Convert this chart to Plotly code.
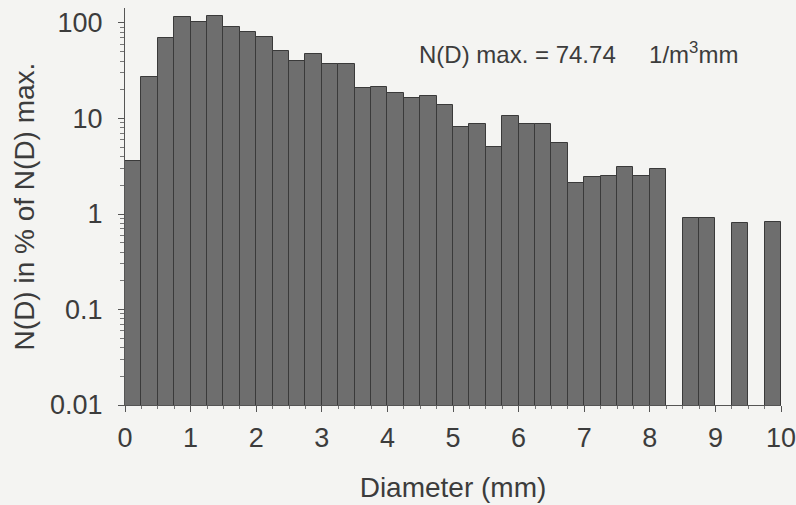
import plotly.graph_objects as go

# Bin centres (mm), bins of 0.25 mm from 0 to 10
diameter_mm = [0.125, 0.375, 0.625, 0.875, 1.125, 1.375, 1.625, 1.875,
               2.125, 2.375, 2.625, 2.875, 3.125, 3.375, 3.625, 3.875,
               4.125, 4.375, 4.625, 4.875, 5.125, 5.375, 5.625, 5.875,
               6.125, 6.375, 6.625, 6.875, 7.125, 7.375, 7.625, 7.875,
               8.125, 8.375, 8.625, 8.875, 9.125, 9.375, 9.625, 9.875]

# N(D) in % of N(D) max (None = empty bin)
nd_percent = [3.6, 27, 70, 116, 103, 117, 91, 80,
              71, 51, 40, 47, 37, 37, 20.7, 21.5,
              18.6, 16.3, 17.3, 13.7, 8.2, 8.7, 5.0, 10.6,
              8.7, 8.7, 5.6, 2.1, 2.45, 2.5, 3.1, 2.5,
              2.95, None, 0.90, 0.90, None, 0.81, None, 0.83]

y_tickvals = [0.01, 0.1, 1, 10, 100]
y_ticktext = ["0.01", "0.1", "1", "10", "100"]
y_minor = [m * 10 ** e for e in (-2, -1, 0, 1, 2) for m in range(2, 10)]
x_tickvals = [0, 1, 2, 3, 4, 5, 6, 7, 8, 9, 10]

FONT = "Liberation Sans, Arial, sans-serif"
TXT = "#3c3c3c"
BG = "#f4f4f2"

fig = go.Figure()
fig.add_trace(go.Bar(
    x=diameter_mm, y=nd_percent, width=0.25,
    marker=dict(color="#6e6e6e", line=dict(color="#3a3a3a", width=1)),
    showlegend=False,
))

fig.add_annotation(
    text="N(D) max. = 74.74&nbsp;&nbsp;&nbsp;&nbsp;&nbsp;1/m<sup>3</sup>mm",
    xref="paper", yref="paper", x=(417 - 125) / 656, y=(405 - 53) / 397,
    xanchor="left", yanchor="middle", showarrow=False,
    font=dict(family=FONT, size=24, color=TXT),
)

fig.update_layout(
    width=796, height=505,
    margin=dict(l=125, r=15, t=8, b=100, autoexpand=False),
    paper_bgcolor=BG, plot_bgcolor=BG,
    bargap=0,
    font=dict(family=FONT, color=TXT),
)

fig.update_xaxes(
    automargin=False,
    range=[0, 10], tickvals=x_tickvals, ticktext=[str(v) for v in x_tickvals],
    ticks="outside", ticklen=6, tickcolor="#555", tickwidth=1,
    showline=True, linecolor="#555", linewidth=1,
    showgrid=False, zeroline=False,
    tickfont=dict(size=27, family=FONT, color=TXT),
    minor=dict(dtick=0.25, ticks="outside", ticklen=3, tickcolor="#777", showgrid=False),
    title=dict(text="Diameter (mm)", font=dict(size=28, family=FONT, color=TXT), standoff=24),
    ticklabelstandoff=3,
    ticklabeloverflow="allow",
)

fig.update_yaxes(
    automargin=False,
    type="log", range=[-2, 2.157],
    tickvals=y_tickvals, ticktext=y_ticktext,
    ticks="outside", ticklen=6, tickcolor="#555", tickwidth=1,
    showline=True, linecolor="#555", linewidth=1,
    showgrid=False, zeroline=False,
    tickfont=dict(size=27, family=FONT, color=TXT),
    minor=dict(tickvals=y_minor, ticks="outside", ticklen=4, tickcolor="#777", showgrid=False),
    title=dict(text="N(D) in % of N(D) max.", font=dict(size=28, family=FONT, color=TXT), standoff=7),
    ticklabelstandoff=10,
)

fig.write_html("out.html", config={"displayModeBar": False},
               post_script="document.body.style.margin='0';")
